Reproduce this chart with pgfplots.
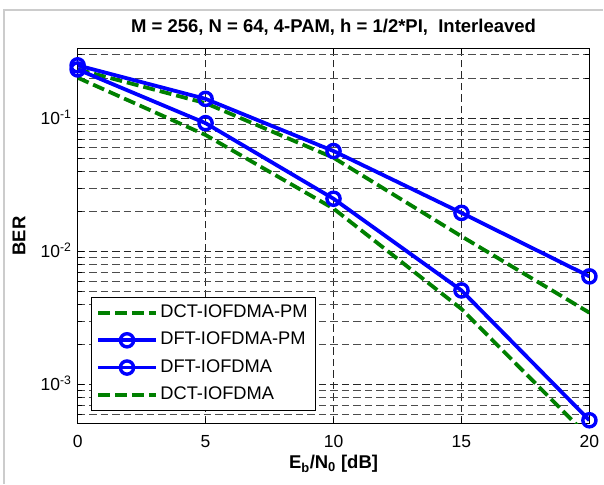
\documentclass[border=0pt]{standalone}
\usepackage{pgfplots}
\pgfplotsset{compat=1.18}
\usepackage{fontspec}
\setmainfont{Liberation Sans}
\definecolor{mgreen}{rgb}{0,0.5,0}
\begin{document}
\begin{tikzpicture}[x=1pt,y=1pt]
\path (0,0) rectangle (604,484);
\draw[black!20, line width=1.2pt] (4,0) -- (4,474) -- (604,474);
\begin{axis}[
  at={(77.7pt,60pt)}, anchor=south west,
  scale only axis, width=512.3pt, height=375.7pt,
  ymode=log, log basis y=10,
  xmin=0, xmax=20, ymin=5.1e-4, ymax=0.336,
  xtick={0,5,10,15,20},
  ytick={1e-3,1e-2,1e-1},
  yticklabels={10\textsuperscript{-3},10\textsuperscript{-2},10\textsuperscript{-1}},
  minor ytick={5e-4,6e-4,7e-4,8e-4,9e-4,2e-3,3e-3,4e-3,5e-3,6e-3,7e-3,8e-3,9e-3,2e-2,3e-2,4e-2,5e-2,6e-2,7e-2,8e-2,9e-2,2e-1,3e-1},
  xmajorgrids, ymajorgrids, yminorgrids,
  major grid style={black!85, line width=0.8pt, dash pattern=on 7.5pt off 4pt},
  minor grid style={black!70, line width=0.8pt, dash pattern=on 7.5pt off 4pt},
  axis line style={black, line width=1.1pt},
  major tick length=6pt, minor tick length=4pt,
  every tick/.style={black, line width=0.8pt},
  /pgf/number format/assume math mode=true,
  tick label style={font=\fontsize{17.5}{17.5}\selectfont},
  xticklabel style={anchor=base, yshift=-23.5pt, inner sep=0pt},
  yticklabel style={anchor=base east, xshift=-6pt, yshift=-6pt, inner sep=0pt},
  every axis title/.style={at={(axis description cs:0.5,1)}, anchor=base, yshift=15.6pt, font=\bfseries\fontsize{18.5}{18.5}\selectfont},
  every axis x label/.style={at={(axis description cs:0.5,0)}, anchor=base, yshift=-45.3pt, font=\bfseries\fontsize{18.5}{18.5}\selectfont},
  every axis y label/.style={at={(axis description cs:0,0.5)}, xshift=-58.7pt, rotate=90, anchor=center, font=\bfseries\fontsize{18.5}{18.5}\selectfont},
  title={M = 256, N = 64, 4-PAM, h = 1/2*PI,\ \ Interleaved},
  xlabel={E\textsubscript{b}/N\textsubscript{0} [dB]},
  ylabel={BER},
  legend cell align=left,
  legend style={at={(0.0254,0.0327)}, anchor=south west, draw=black, line width=1pt, fill=white,
    font=\fontsize{18.3}{18.3}\selectfont, inner xsep=5pt, inner ysep=5pt, row sep=5.3pt,
    nodes={inner sep=2.5pt, text height=13pt, text depth=4pt}},
  legend image code/.code={\draw[mark repeat=2,mark phase=2,#1] plot coordinates {(0pt,0pt) (29pt,0pt) (58pt,0pt)};},
]
\addplot[mgreen, line width=3.8pt, dash pattern=on 12pt off 5pt] coordinates {(0,0.233) (5,0.13) (10,0.0506) (15,0.013) (20,0.00347)};
\addlegendentry{DCT-IOFDMA-PM}
\addplot[blue, line width=3.8pt, mark=o, mark size=6.6pt, mark options={solid, line width=3.4pt}] coordinates {(0,0.25) (5,0.14) (10,0.0568) (15,0.0195) (20,0.0065)};
\addlegendentry{DFT-IOFDMA-PM}
\addplot[blue, line width=3.8pt, mark=o, mark size=6.6pt, mark options={solid, line width=3.4pt}] coordinates {(0,0.233) (5,0.092) (10,0.0249) (15,0.0051) (20,0.00054)};
\addlegendentry{DFT-IOFDMA}
\addplot[mgreen, line width=3.8pt, dash pattern=on 12pt off 5pt] coordinates {(0,0.202) (5,0.075) (10,0.021) (15,0.0037) (20,0.0004)};
\addlegendentry{DCT-IOFDMA}
\end{axis}
\end{tikzpicture}
\end{document}
